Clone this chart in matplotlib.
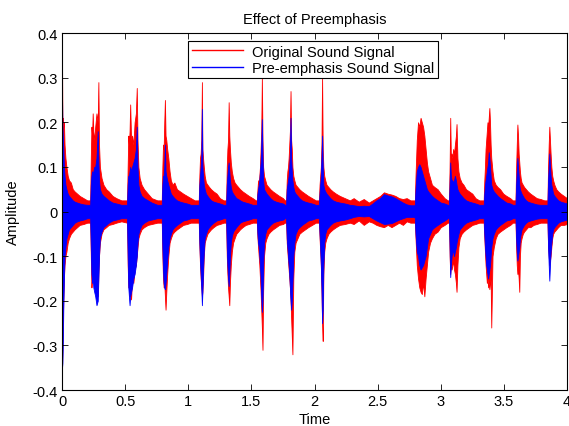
import matplotlib.pyplot as plt
from matplotlib.lines import Line2D

plt.rcParams['font.family'] = ['Liberation Sans', 'DejaVu Sans']

# envelope of the two waveforms (time in s, amplitude)
t_env = [
    # burst 1
    0.0, 0.003, 0.006, 0.01, 0.015, 0.02, 0.027, 0.035, 0.045, 0.055, 0.07, 0.085, 0.10, 0.12, 0.14, 0.17, 0.20,
    # burst 2
    0.223, 0.228, 0.233, 0.238, 0.243, 0.248, 0.255, 0.263, 0.273, 0.283, 0.288, 0.293, 0.30, 0.313, 0.328, 0.35, 0.37, 0.40, 0.43, 0.47,
    # burst 3
    0.515, 0.52, 0.525, 0.53, 0.535, 0.54, 0.547, 0.555, 0.565, 0.575, 0.585, 0.592, 0.598, 0.605, 0.615, 0.63, 0.65, 0.68, 0.71, 0.755,
    # burst 4
    0.79, 0.795, 0.80, 0.805, 0.81, 0.815, 0.82, 0.826, 0.833, 0.842, 0.852, 0.862, 0.875, 0.89, 0.91, 0.935, 0.96, 0.99, 1.02, 1.05,
    # burst 5
    1.083, 1.088, 1.093, 1.098, 1.103, 1.108, 1.112, 1.117, 1.123, 1.13, 1.14, 1.152, 1.165, 1.18, 1.20, 1.225, 1.25, 1.28,
    # burst 6
    1.30, 1.305, 1.31, 1.315, 1.32, 1.325, 1.33, 1.337, 1.345, 1.355, 1.367, 1.38, 1.395, 1.41, 1.43, 1.455, 1.48, 1.51, 1.535,
    # burst 7
    1.543, 1.548, 1.553, 1.558, 1.563, 1.568, 1.573, 1.578, 1.583, 1.588, 1.593, 1.60, 1.61, 1.62, 1.635, 1.65, 1.67, 1.695, 1.72, 1.75, 1.765,
    # burst 8
    1.775, 1.78, 1.785, 1.79, 1.795, 1.80, 1.805, 1.81, 1.815, 1.82, 1.825, 1.832, 1.84, 1.85, 1.865, 1.88, 1.90, 1.925, 1.95, 1.98, 2.01,
    # burst 9
    2.035, 2.04, 2.045, 2.05, 2.055, 2.06, 2.065, 2.07, 2.077, 2.085, 2.095, 2.11, 2.125, 2.145, 2.17, 2.20, 2.24, 2.28,
    # quiet hump
    2.31, 2.35, 2.39, 2.43, 2.46, 2.49, 2.52, 2.55, 2.58, 2.61, 2.64, 2.67, 2.70, 2.73, 2.76, 2.79,
    # burst 10
    2.795, 2.80, 2.805, 2.81, 2.82, 2.83, 2.84, 2.85, 2.86, 2.87, 2.88, 2.89, 2.90, 2.915, 2.93, 2.95, 2.975, 3.00, 3.03, 3.055,
    # burst 11
    3.065, 3.07, 3.075, 3.08, 3.086, 3.092, 3.098, 3.105, 3.112, 3.12, 3.125, 3.132, 3.14, 3.15, 3.165, 3.18, 3.20, 3.225, 3.25, 3.275, 3.305,
    # burst 12
    3.34, 3.345, 3.35, 3.355, 3.36, 3.365, 3.37, 3.375, 3.38, 3.385, 3.39, 3.395, 3.40, 3.41, 3.42, 3.435, 3.45, 3.47, 3.495, 3.52, 3.55, 3.57,
    # burst 13
    3.592, 3.597, 3.602, 3.607, 3.612, 3.617, 3.622, 3.627, 3.633, 3.64, 3.65, 3.66, 3.675, 3.69, 3.71, 3.735, 3.76, 3.79, 3.82,
    # burst 14
    3.845, 3.85, 3.855, 3.86, 3.865, 3.87, 3.876, 3.883, 3.89, 3.90, 3.915, 3.93, 3.95, 3.975, 4.0,
]

red_hi = [
    0.34, 0.20, 0.21, 0.19, 0.20, 0.15, 0.12, 0.10, 0.08, 0.07, 0.065, 0.05, 0.045, 0.04, 0.035, 0.03, 0.025,
    0.025, 0.12, 0.19, 0.17, 0.22, 0.18, 0.16, 0.19, 0.22, 0.20, 0.29, 0.15, 0.10, 0.075, 0.06, 0.05, 0.045, 0.035, 0.03, 0.025,
    0.025, 0.10, 0.17, 0.15, 0.18, 0.24, 0.16, 0.17, 0.15, 0.20, 0.22, 0.277, 0.16, 0.10, 0.075, 0.06, 0.05, 0.04, 0.03, 0.025,
    0.025, 0.10, 0.15, 0.14, 0.20, 0.25, 0.17, 0.16, 0.14, 0.12, 0.09, 0.07, 0.06, 0.065, 0.05, 0.045, 0.04, 0.035, 0.03, 0.025,
    0.025, 0.08, 0.12, 0.13, 0.16, 0.29, 0.14, 0.12, 0.10, 0.08, 0.065, 0.06, 0.055, 0.05, 0.045, 0.04, 0.03, 0.025,
    0.025, 0.10, 0.14, 0.16, 0.245, 0.17, 0.14, 0.11, 0.09, 0.075, 0.065, 0.06, 0.055, 0.05, 0.045, 0.04, 0.035, 0.03, 0.025,
    0.025, 0.05, 0.07, 0.06, 0.08, 0.10, 0.14, 0.18, 0.30, 0.16, 0.10, 0.08, 0.07, 0.06, 0.055, 0.05, 0.045, 0.04, 0.035, 0.03, 0.025,
    0.025, 0.07, 0.09, 0.10, 0.12, 0.15, 0.18, 0.27, 0.16, 0.14, 0.10, 0.08, 0.07, 0.06, 0.055, 0.05, 0.045, 0.04, 0.035, 0.03, 0.025,
    0.025, 0.06, 0.08, 0.10, 0.15, 0.30, 0.14, 0.10, 0.08, 0.07, 0.06, 0.055, 0.05, 0.045, 0.04, 0.035, 0.03, 0.025,
    0.03, 0.022, 0.028, 0.02, 0.025, 0.03, 0.035, 0.043, 0.04, 0.038, 0.035, 0.03, 0.028, 0.03, 0.025, 0.025,
    0.025, 0.08, 0.12, 0.16, 0.20, 0.19, 0.21, 0.20, 0.19, 0.17, 0.14, 0.11, 0.09, 0.075, 0.06, 0.055, 0.05, 0.04, 0.03, 0.025,
    0.025, 0.10, 0.21, 0.12, 0.13, 0.12, 0.14, 0.13, 0.15, 0.17, 0.196, 0.12, 0.09, 0.075, 0.065, 0.06, 0.05, 0.045, 0.04, 0.03, 0.025,
    0.025, 0.07, 0.10, 0.14, 0.16, 0.18, 0.20, 0.19, 0.21, 0.232, 0.20, 0.15, 0.12, 0.09, 0.07, 0.06, 0.055, 0.05, 0.04, 0.035, 0.03, 0.025,
    0.025, 0.10, 0.15, 0.195, 0.17, 0.13, 0.11, 0.09, 0.075, 0.065, 0.06, 0.055, 0.05, 0.045, 0.04, 0.035, 0.03, 0.028, 0.025,
    0.025, 0.10, 0.15, 0.19, 0.16, 0.13, 0.10, 0.08, 0.07, 0.06, 0.05, 0.045, 0.04, 0.035, 0.03,
]

red_lo = [
    -0.35, -0.30, -0.25, -0.20, -0.15, -0.12, -0.10, -0.09, -0.07, -0.06, -0.05, -0.045, -0.04, -0.035, -0.03, -0.028, -0.025,
    -0.025, -0.10, -0.17, -0.15, -0.12, -0.16, -0.13, -0.17, -0.15, -0.19, -0.14, -0.10, -0.07, -0.05, -0.04, -0.035, -0.03, -0.028, -0.025, -0.022,
    -0.025, -0.12, -0.17, -0.15, -0.19, -0.18, -0.197, -0.15, -0.16, -0.13, -0.12, -0.10, -0.08, -0.06, -0.05, -0.04, -0.035, -0.03, -0.028, -0.025,
    -0.025, -0.10, -0.15, -0.17, -0.16, -0.19, -0.22, -0.18, -0.14, -0.10, -0.07, -0.06, -0.05, -0.045, -0.04, -0.035, -0.03, -0.028, -0.025, -0.025,
    -0.025, -0.08, -0.12, -0.15, -0.17, -0.19, -0.18, -0.15, -0.10, -0.07, -0.06, -0.05, -0.045, -0.04, -0.035, -0.03, -0.028, -0.025,
    -0.025, -0.10, -0.14, -0.17, -0.19, -0.21, -0.16, -0.12, -0.09, -0.07, -0.06, -0.05, -0.045, -0.04, -0.035, -0.03, -0.028, -0.025, -0.025,
    -0.025, -0.06, -0.08, -0.10, -0.12, -0.15, -0.18, -0.22, -0.26, -0.31, -0.18, -0.10, -0.07, -0.06, -0.05, -0.045, -0.04, -0.035, -0.03, -0.028, -0.025,
    -0.025, -0.07, -0.09, -0.11, -0.13, -0.15, -0.17, -0.20, -0.24, -0.28, -0.32, -0.15, -0.09, -0.07, -0.06, -0.05, -0.045, -0.04, -0.035, -0.03, -0.025,
    -0.025, -0.06, -0.09, -0.12, -0.18, -0.25, -0.29, -0.14, -0.09, -0.07, -0.06, -0.05, -0.045, -0.04, -0.035, -0.03, -0.028, -0.025,
    -0.028, -0.02, -0.03, -0.022, -0.025, -0.03, -0.033, -0.035, -0.03, -0.035, -0.03, -0.025, -0.03, -0.022, -0.025, -0.025,
    -0.025, -0.06, -0.09, -0.12, -0.15, -0.17, -0.18, -0.185, -0.16, -0.19, -0.15, -0.12, -0.09, -0.07, -0.06, -0.05, -0.045, -0.035, -0.03, -0.025,
    -0.025, -0.10, -0.14, -0.12, -0.13, -0.12, -0.11, -0.13, -0.14, -0.16, -0.18, -0.12, -0.08, -0.06, -0.05, -0.045, -0.04, -0.035, -0.03, -0.028, -0.025,
    -0.025, -0.06, -0.09, -0.12, -0.14, -0.16, -0.15, -0.17, -0.16, -0.174, -0.16, -0.15, -0.26, -0.10, -0.08, -0.06, -0.05, -0.045, -0.04, -0.035, -0.03, -0.025,
    -0.025, -0.08, -0.12, -0.14, -0.13, -0.15, -0.18, -0.10, -0.07, -0.06, -0.05, -0.045, -0.04, -0.035, -0.035, -0.03, -0.028, -0.025, -0.025,
    -0.025, -0.08, -0.10, -0.12, -0.11, -0.10, -0.08, -0.06, -0.05, -0.045, -0.04, -0.035, -0.03, -0.03, -0.028,
]

blue_hi = [
    0.26, 0.19, 0.17, 0.14, 0.10, 0.08, 0.06, 0.05, 0.04, 0.035, 0.03, 0.025, 0.022, 0.02, 0.018, 0.016, 0.015,
    0.015, 0.06, 0.08, 0.09, 0.085, 0.09, 0.10, 0.10, 0.12, 0.18, 0.11, 0.07, 0.05, 0.04, 0.035, 0.03, 0.025, 0.02, 0.018, 0.015,
    0.015, 0.06, 0.08, 0.08, 0.09, 0.10, 0.09, 0.10, 0.11, 0.12, 0.14, 0.19, 0.10, 0.06, 0.045, 0.035, 0.03, 0.025, 0.02, 0.015,
    0.015, 0.06, 0.08, 0.08, 0.10, 0.15, 0.09, 0.08, 0.07, 0.06, 0.05, 0.04, 0.035, 0.03, 0.025, 0.022, 0.02, 0.018, 0.015, 0.015,
    0.015, 0.06, 0.08, 0.10, 0.12, 0.23, 0.10, 0.08, 0.06, 0.05, 0.04, 0.035, 0.03, 0.025, 0.022, 0.02, 0.018, 0.015,
    0.015, 0.06, 0.08, 0.10, 0.11, 0.09, 0.07, 0.055, 0.045, 0.04, 0.035, 0.03, 0.028, 0.025, 0.022, 0.02, 0.018, 0.015, 0.015,
    0.015, 0.04, 0.05, 0.06, 0.07, 0.09, 0.11, 0.15, 0.207, 0.12, 0.07, 0.05, 0.045, 0.04, 0.035, 0.03, 0.025, 0.022, 0.02, 0.018, 0.015,
    0.015, 0.05, 0.06, 0.07, 0.08, 0.10, 0.13, 0.21, 0.12, 0.09, 0.07, 0.055, 0.045, 0.04, 0.035, 0.03, 0.025, 0.022, 0.02, 0.018, 0.015,
    0.015, 0.04, 0.06, 0.08, 0.12, 0.17, 0.10, 0.06, 0.05, 0.045, 0.04, 0.035, 0.03, 0.025, 0.022, 0.02, 0.018, 0.015,
    0.014, 0.012, 0.013, 0.012, 0.018, 0.025, 0.03, 0.039, 0.036, 0.034, 0.03, 0.025, 0.02, 0.016, 0.014, 0.014,
    0.015, 0.05, 0.07, 0.09, 0.10, 0.106, 0.10, 0.09, 0.08, 0.07, 0.06, 0.05, 0.045, 0.04, 0.035, 0.03, 0.025, 0.02, 0.018, 0.015,
    0.015, 0.06, 0.11, 0.08, 0.07, 0.07, 0.065, 0.07, 0.08, 0.07, 0.06, 0.05, 0.045, 0.04, 0.035, 0.03, 0.025, 0.022, 0.02, 0.018, 0.015,
    0.015, 0.04, 0.06, 0.07, 0.08, 0.09, 0.10, 0.11, 0.133, 0.12, 0.10, 0.08, 0.06, 0.05, 0.045, 0.04, 0.035, 0.03, 0.025, 0.02, 0.018, 0.015,
    0.015, 0.06, 0.09, 0.12, 0.10, 0.08, 0.06, 0.05, 0.045, 0.04, 0.035, 0.03, 0.025, 0.022, 0.02, 0.018, 0.016, 0.015, 0.015,
    0.015, 0.07, 0.10, 0.13, 0.10, 0.08, 0.06, 0.05, 0.04, 0.035, 0.03, 0.025, 0.022, 0.02, 0.018,
]

blue_lo = [
    -0.35, -0.34, -0.30, -0.22, -0.15, -0.10, -0.08, -0.06, -0.05, -0.04, -0.035, -0.03, -0.025, -0.022, -0.02, -0.018, -0.015,
    -0.015, -0.08, -0.14, -0.16, -0.15, -0.17, -0.18, -0.19, -0.21, -0.20, -0.15, -0.10, -0.06, -0.045, -0.035, -0.03, -0.025, -0.02, -0.018, -0.015,
    -0.015, -0.10, -0.17, -0.19, -0.21, -0.19, -0.18, -0.17, -0.15, -0.14, -0.12, -0.10, -0.07, -0.05, -0.04, -0.03, -0.025, -0.02, -0.018, -0.015,
    -0.015, -0.08, -0.13, -0.16, -0.17, -0.174, -0.16, -0.14, -0.11, -0.08, -0.06, -0.05, -0.04, -0.035, -0.03, -0.025, -0.02, -0.018, -0.015, -0.015,
    -0.015, -0.07, -0.11, -0.14, -0.17, -0.21, -0.18, -0.13, -0.09, -0.06, -0.05, -0.04, -0.035, -0.03, -0.025, -0.02, -0.018, -0.015,
    -0.015, -0.08, -0.12, -0.15, -0.167, -0.14, -0.10, -0.07, -0.055, -0.045, -0.04, -0.035, -0.03, -0.025, -0.022, -0.02, -0.018, -0.015, -0.015,
    -0.015, -0.05, -0.07, -0.08, -0.10, -0.12, -0.15, -0.19, -0.225, -0.20, -0.12, -0.07, -0.05, -0.04, -0.035, -0.03, -0.025, -0.022, -0.02, -0.018, -0.015,
    -0.015, -0.06, -0.08, -0.10, -0.12, -0.14, -0.17, -0.20, -0.22, -0.20, -0.16, -0.10, -0.07, -0.05, -0.04, -0.035, -0.03, -0.025, -0.02, -0.018, -0.015,
    -0.015, -0.05, -0.08, -0.12, -0.17, -0.25, -0.22, -0.12, -0.07, -0.05, -0.04, -0.035, -0.03, -0.025, -0.022, -0.02, -0.018, -0.015,
    -0.012, -0.01, -0.011, -0.01, -0.015, -0.02, -0.024, -0.028, -0.027, -0.026, -0.022, -0.018, -0.015, -0.012, -0.012, -0.012,
    -0.015, -0.05, -0.07, -0.09, -0.10, -0.12, -0.13, -0.125, -0.12, -0.11, -0.10, -0.08, -0.06, -0.05, -0.04, -0.035, -0.03, -0.025, -0.02, -0.015,
    -0.015, -0.08, -0.147, -0.12, -0.10, -0.09, -0.09, -0.10, -0.09, -0.08, -0.07, -0.06, -0.05, -0.04, -0.035, -0.03, -0.025, -0.022, -0.02, -0.018, -0.015,
    -0.015, -0.05, -0.08, -0.10, -0.12, -0.13, -0.14, -0.15, -0.14, -0.13, -0.12, -0.10, -0.08, -0.06, -0.05, -0.04, -0.035, -0.03, -0.025, -0.02, -0.018, -0.015,
    -0.015, -0.06, -0.09, -0.11, -0.10, -0.09, -0.08, -0.06, -0.05, -0.04, -0.035, -0.03, -0.025, -0.022, -0.02, -0.018, -0.016, -0.015, -0.015,
    -0.015, -0.08, -0.12, -0.155, -0.12, -0.09, -0.07, -0.05, -0.04, -0.035, -0.03, -0.025, -0.022, -0.02, -0.018,
]

x_ticks = [0, 0.5, 1, 1.5, 2, 2.5, 3, 3.5, 4]
x_labels = ['0', '0.5', '1', '1.5', '2', '2.5', '3', '3.5', '4']
y_ticks = [-0.4, -0.3, -0.2, -0.1, 0, 0.1, 0.2, 0.3, 0.4]
y_labels = ['-0.4', '-0.3', '-0.2', '-0.1', '0', '0.1', '0.2', '0.3', '0.4']

fig = plt.figure(figsize=(5.69, 4.27), dpi=100)
ax = fig.add_axes([0.109, 0.0843, 0.8875, 0.836])

ax.fill_between(t_env, red_lo, red_hi, color='red', linewidth=0.6, edgecolor='red')
ax.fill_between(t_env, blue_lo, blue_hi, color='blue', linewidth=0.6, edgecolor='blue')

ax.set_xlim(0, 4)
ax.set_ylim(-0.4, 0.4)
ax.set_xticks(x_ticks)
ax.set_xticklabels(x_labels)
ax.set_yticks(y_ticks)
ax.set_yticklabels(y_labels)
ax.tick_params(direction='in', top=True, right=True, length=4, width=0.6,
               labelsize=10.5, pad=3)
for s in ax.spines.values():
    s.set_linewidth(0.8)

ax.set_title('Effect of Preemphasis', fontsize=10.5, pad=7)
ax.set_xlabel('Time', fontsize=10.5, labelpad=3)
ax.set_ylabel('Amplitude', fontsize=10.5, labelpad=9)

handles = [Line2D([], [], color='red', lw=1),
           Line2D([], [], color='blue', lw=1)]
leg = ax.legend(handles, ['Original Sound Signal', 'Pre-emphasis Sound Signal'],
                loc='upper left', bbox_to_anchor=(0.25, 0.978), fontsize=10.5,
                fancybox=False, framealpha=1, edgecolor='black',
                handlelength=3.5, handletextpad=0.6, borderpad=0.25,
                labelspacing=0.15, borderaxespad=0)
leg.get_frame().set_linewidth(0.8)

fig.savefig('out.png', dpi=100)
